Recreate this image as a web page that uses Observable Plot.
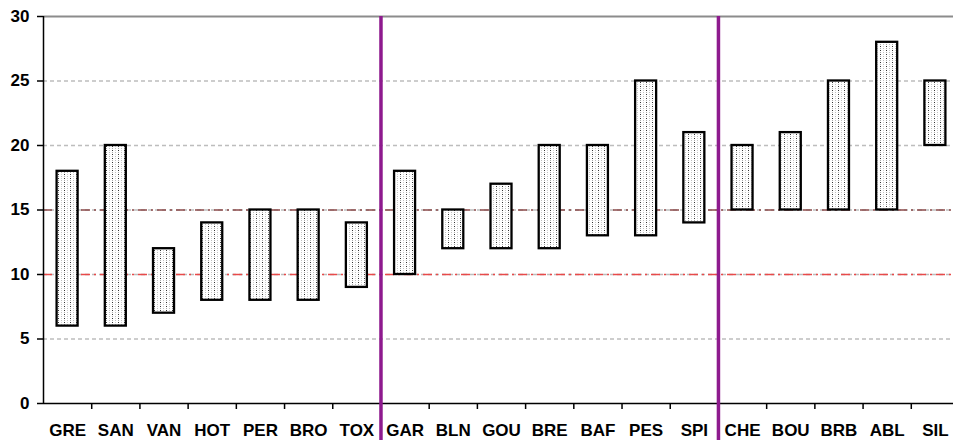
<!DOCTYPE html>
<html>
<head>
<meta charset="utf-8">
<script src="https://cdn.jsdelivr.net/npm/d3@7"></script>
<script src="https://cdn.jsdelivr.net/npm/@observablehq/plot@0.6"></script>
<style>
  html, body { margin: 0; padding: 0; background: #fff; }
  #chart svg { display: block; }
</style>
</head>
<body>
<div id="chart"></div>
<script>
const categories = ["GRE","SAN","VAN","HOT","PER","BRO","TOX","GAR","BLN","GOU","BRE","BAF","PES","SPI","CHE","BOU","BRB","ABL","SIL"];
const lowValues  = [6, 6, 7, 8, 8, 8, 9, 10, 12, 12, 12, 13, 13, 14, 15, 15, 15, 15, 20];
const highValues = [18, 20, 12, 14, 15, 15, 14, 18, 15, 17, 20, 20, 25, 21, 20, 21, 25, 28, 25];
const yTicks = [0, 5, 10, 15, 20, 25, 30];
const gridDotted = [5, 10, 15, 20, 25];
const groupBreaks = [7, 14];

const data = categories.map((c, i) => ({name: c, i, lo: lowValues[i], hi: highValues[i]}));
const boundaries = d3.range(1, categories.length + 1);
const n = categories.length;

const plot = Plot.plot({
  width: 953,
  height: 440,
  marginTop: 16,
  marginBottom: 37,
  marginLeft: 43,
  marginRight: 0,
  style: {fontFamily: "'Liberation Sans', Arial, sans-serif", fontWeight: "bold", fontSize: "17px", color: "#000", background: "#fff", overflow: "visible"},
  x: {type: "linear", domain: [0, n], range: [43, 959], axis: null},
  y: {type: "linear", domain: [0, 30], axis: null},
  marks: [
    // dotted grey gridlines
    Plot.ruleY(gridDotted, {x1: 0, x2: n, stroke: "#bdbdbd", strokeWidth: 1.5, strokeDasharray: "4,3"}),
    // reference lines
    Plot.ruleY([15], {x1: 0, x2: n, stroke: "#8a4a4a", strokeWidth: 1.3, strokeDasharray: "9,4,2,4"}),
    Plot.ruleY([10], {x1: 0, x2: n, stroke: "#e84a4a", strokeWidth: 1.3, strokeDasharray: "9,4,2,4"}),
    // top border at 30
    Plot.ruleY([30], {x1: 0, x2: n, stroke: "#8c8c8c", strokeWidth: 2}),
    // floating bars
    Plot.rect(data, {
      x1: d => d.i, x2: d => d.i + 1, y1: "lo", y2: "hi",
      insetLeft: 13.6, insetRight: 13.6,
      fill: "url(#dots)", stroke: "#000", strokeWidth: 2.3
    }),
    // y axis
    Plot.axisY(yTicks, {tickSize: 6, tickPadding: 8, stroke: "#000", strokeWidth: 1.5, fontSize: 17, fontWeight: "bold", fill: "#000"}),
    Plot.ruleX([0], {y1: 0, y2: 30, stroke: "#000", strokeWidth: 1.5}),
    // x axis
    Plot.ruleY([0], {x1: 0, x2: n, stroke: "#000", strokeWidth: 1.5}),
    Plot.ruleX(boundaries, {x: d => d, y1: 0, y2: 0, insetBottom: -6, stroke: "#000", strokeWidth: 1.5}),
    Plot.text(data, {x: d => d.i + 0.5, y: 0, text: "name", dy: 27, fontSize: 17, fontWeight: "bold", fill: "#000"}),
    // group separators
    Plot.ruleX(groupBreaks, {y1: 30, y2: -3, stroke: "#8e1a8e", strokeWidth: 3.5, clip: false})
  ]
});

const svg = d3.select(plot);
const defs = svg.insert("defs", ":first-child");
const pat = defs.append("pattern").attr("id", "dots").attr("patternUnits", "userSpaceOnUse")
  .attr("width", 6).attr("height", 4);
pat.append("rect").attr("width", 6).attr("height", 4).attr("fill", "#fff");
pat.append("rect").attr("x", 1).attr("y", 0).attr("width", 1).attr("height", 1).attr("fill", "#c0c0c0");
pat.append("rect").attr("x", 4).attr("y", 2).attr("width", 1).attr("height", 1).attr("fill", "#333");
pat.append("rect").attr("x", 1).attr("y", 2).attr("width", 1).attr("height", 1).attr("fill", "#d0d0d0");
pat.append("rect").attr("x", 4).attr("y", 0).attr("width", 1).attr("height", 1).attr("fill", "#a8a8a8");
document.getElementById("chart").appendChild(plot);
</script>
</body>
</html>
